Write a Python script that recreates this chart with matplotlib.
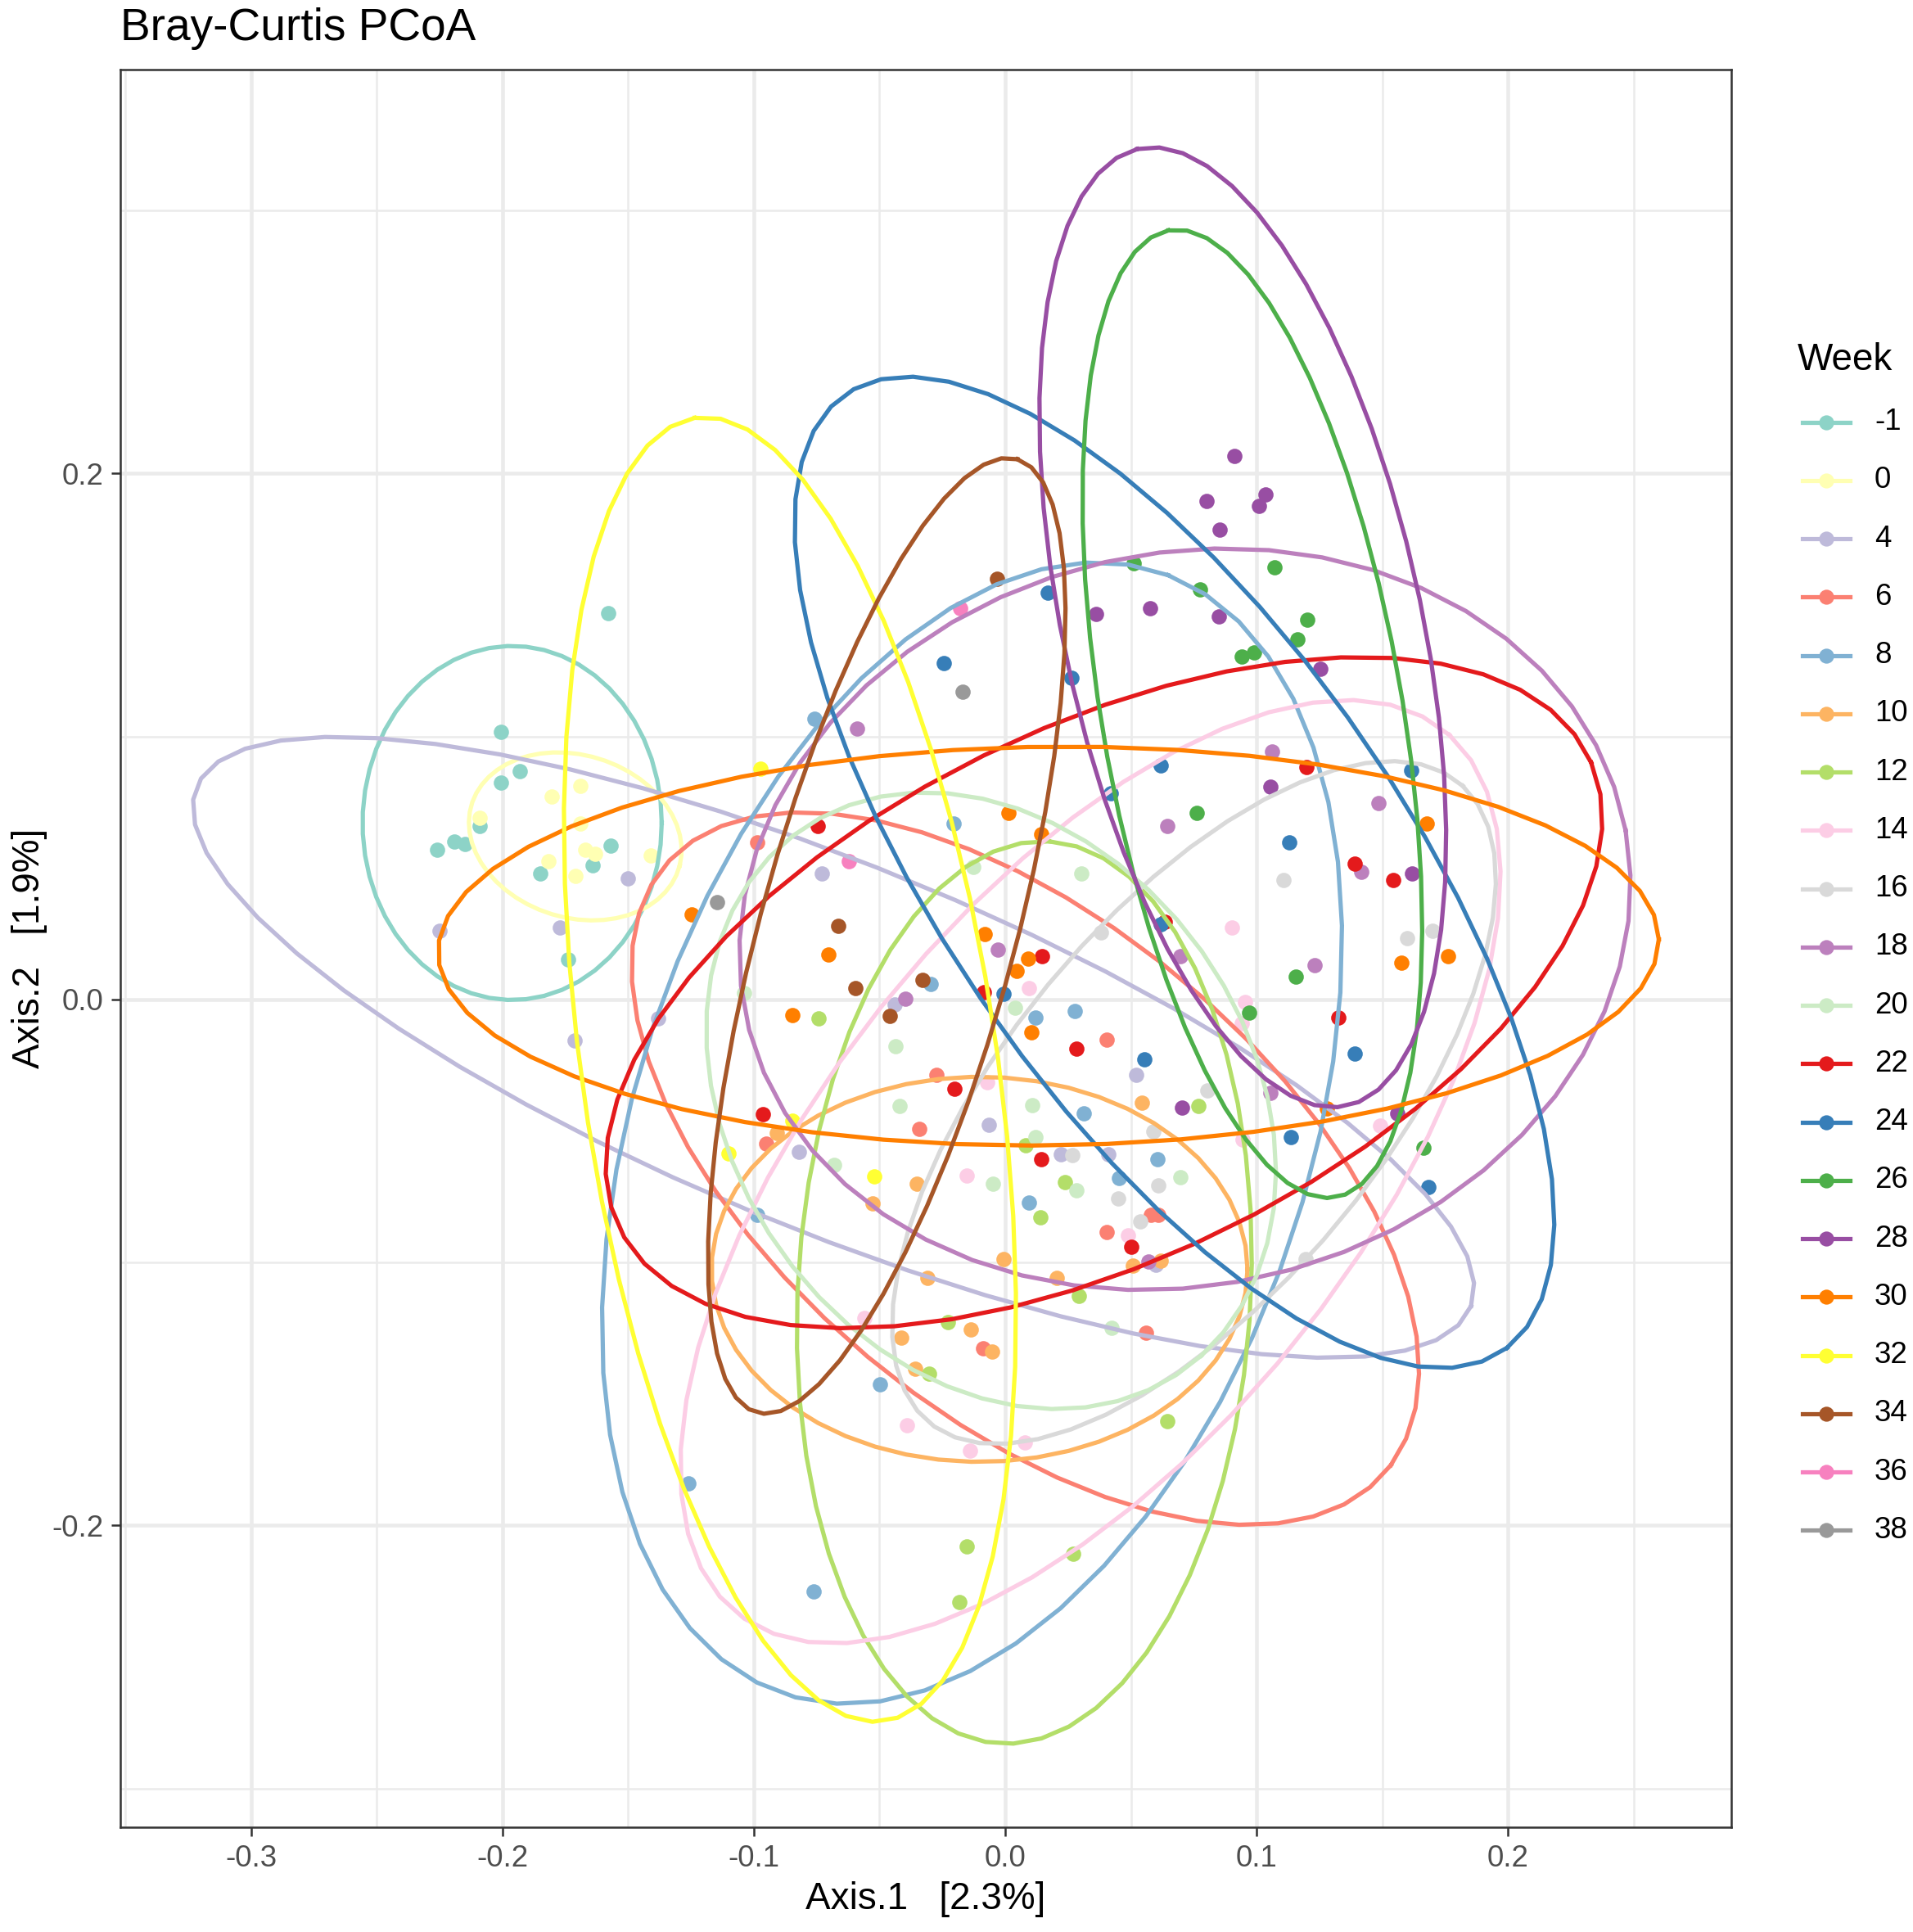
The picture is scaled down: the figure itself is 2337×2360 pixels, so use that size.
import numpy as np
import matplotlib
matplotlib.use("Agg")
import matplotlib.pyplot as plt
from matplotlib.lines import Line2D

plt.rcParams['font.family'] = ['Liberation Sans', 'DejaVu Sans']

# week labels and colours (Set3 first 11 + Set1)
weeks = ['-1', '0', '4', '6', '8', '10', '12', '14', '16', '18',
         '20', '22', '24', '26', '28', '30', '32', '34', '36', '38']
colors = ['#8DD3C7', '#FFFFB3', '#BEBADA', '#FB8072', '#80B1D3', '#FDB462',
          '#B3DE69', '#FCCDE5', '#D9D9D9', '#BC80BD', '#CCEBC5',
          '#E41A1C', '#377EB8', '#4DAF4A', '#984EA3', '#FF7F00', '#FFFF33',
          '#A65628', '#F781BF', '#999999']

# sample coordinates per week (Axis.1, Axis.2)
ax1_m1 = [-0.158, -0.2005, -0.193, -0.2005, -0.209, -0.226, -0.219, -0.215, -0.185, -0.164, -0.157, -0.174]
ax2_m1 = [0.147, 0.1016, 0.0867, 0.0825, 0.066, 0.057, 0.060, 0.059, 0.048, 0.051, 0.0585, 0.0153]
ax1_0 = [-0.169, -0.1805, -0.209, -0.169, -0.167, -0.163, -0.1816, -0.171, -0.141]
ax2_0 = [0.0813, 0.077, 0.069, 0.067, 0.057, 0.0555, 0.0527, 0.047, 0.0548]
ax1_4 = [-0.150, -0.225, -0.177, -0.138, -0.1714, -0.073, -0.044, -0.082, -0.0064, 0.0223, 0.041, 0.052, 0.060]
ax2_4 = [0.046, 0.026, 0.0275, -0.0072, -0.0156, 0.048, -0.002, -0.058, -0.0476, -0.059, -0.059, -0.0287, -0.101]
ax1_6 = [-0.0985, -0.095, -0.0273, -0.0343, 0.0405, 0.058, 0.061, 0.0405, -0.0088, 0.056]
ax2_6 = [0.0597, -0.0548, -0.0287, -0.0492, -0.0153, -0.0819, -0.0819, -0.0885, -0.1327, -0.1268]
ax1_8 = [-0.076, -0.0205, -0.0295, 0.012, 0.0276, 0.0312, 0.0096, 0.0605, 0.0454, -0.0985, -0.126, -0.0497, -0.0763]
ax2_8 = [0.1068, 0.0669, 0.0059, -0.0069, -0.0043, -0.0434, -0.0773, -0.0606, -0.068, -0.082, -0.184, -0.1464, -0.2252]
ax1_10 = [-0.0907, -0.0351, -0.0527, 0.0545, -0.0005, -0.031, 0.0205, -0.0413, -0.0138, -0.0051, -0.0357, 0.0509, 0.0618]
ax2_10 = [-0.0508, -0.070, -0.0774, -0.0392, -0.0988, -0.1058, -0.1058, -0.1286, -0.1254, -0.134, -0.1404, -0.1012, -0.0993]
ax1_12 = [-0.0741, 0.0083, 0.0239, 0.0139, 0.077, -0.0227, -0.0304, 0.0293, -0.0152, 0.0271, -0.0183, 0.0644]
ax2_12 = [-0.0072, -0.0555, -0.0695, -0.0828, -0.0404, -0.1226, -0.1422, -0.1127, -0.208, -0.2108, -0.229, -0.1604]
ax1_14 = [0.0096, -0.0073, -0.0154, 0.0903, 0.0954, 0.094, 0.149, 0.0943, -0.0561, -0.039, -0.0141, 0.0078, 0.0488]
ax2_14 = [0.0044, -0.0315, -0.0669, 0.0275, -0.0009, -0.0091, -0.048, -0.0532, -0.1212, -0.1618, -0.1716, -0.1685, -0.0897]
ax1_16 = [0.038, 0.0266, 0.1106, 0.16, 0.170, 0.0805, 0.059, 0.061, 0.0449, 0.0537, 0.1194]
ax2_16 = [0.0256, -0.0592, 0.0454, 0.0233, 0.026, -0.0345, -0.0502, -0.0707, -0.0757, -0.0844, -0.0988]
ax1_18 = [-0.059, 0.1063, 0.1486, 0.0644, -0.003, -0.0396, 0.1418, 0.0696, 0.123, 0.1054, 0.0569]
ax2_18 = [0.103, 0.0942, 0.0746, 0.0659, 0.019, 0.0004, 0.0486, 0.0165, 0.013, -0.0354, -0.0997]
ax1_20 = [-0.0128, 0.0302, -0.0437, -0.042, 0.0039, 0.0107, 0.012, -0.068, -0.005, 0.0283, 0.0696, 0.0422, -0.104]
ax2_20 = [0.0503, 0.048, -0.0177, -0.0406, -0.0033, -0.0401, -0.0522, -0.063, -0.070, -0.0727, -0.0676, -0.1249, 0.0023]
ax1_22 = [-0.0746, 0.1198, -0.0965, -0.0084, 0.0147, 0.0283, -0.0201, 0.0144, 0.1389, 0.1542, 0.1324, 0.0634, 0.050]
ax2_22 = [0.0658, 0.0883, -0.0436, 0.0028, 0.0163, -0.0186, -0.034, -0.0606, 0.0517, 0.0455, -0.0068, 0.0294, -0.094]
ax1_24 = [0.0168, -0.0244, 0.0263, 0.042, 0.0618, 0.1616, -0.0008, 0.1129, 0.1389, 0.0553, 0.1138, 0.1683, 0.0618]
ax2_24 = [0.1548, 0.128, 0.1223, 0.0783, 0.089, 0.0872, 0.0021, 0.0597, -0.0205, -0.0228, -0.0522, -0.0712, 0.0286]
ax1_26 = [0.0512, 0.0776, 0.107, 0.120, 0.1161, 0.094, 0.099, 0.0761, 0.1157, 0.097, 0.1663]
ax2_26 = [0.166, 0.1559, 0.1643, 0.1445, 0.1369, 0.1305, 0.1319, 0.0709, 0.0087, -0.0049, -0.0564]
ax1_28 = [0.0912, 0.0802, 0.1037, 0.1008, 0.0854, 0.0576, 0.0851, 0.1253, 0.1054, 0.0363, 0.0702, 0.1617, 0.156]
ax2_28 = [0.2067, 0.1895, 0.1921, 0.1876, 0.1787, 0.1487, 0.1455, 0.1257, 0.0809, 0.1466, -0.041, 0.048, -0.0432]
ax1_30 = [0.0012, 0.1678, -0.1246, -0.0702, -0.008, 0.009, 0.0047, -0.0846, 0.0103, 0.0145, 0.1575, 0.1763, 0.1279]
ax2_30 = [0.0709, 0.0669, 0.0322, 0.0171, 0.0249, 0.0155, 0.0107, -0.006, -0.0124, 0.0629, 0.0141, 0.0165, -0.0415]
ax1_32 = [-0.0973, -0.110, -0.0846, -0.0522]
ax2_32 = [0.0877, -0.0586, -0.046, -0.0673]
ax1_34 = [-0.0032, -0.0663, -0.0597, -0.0328, -0.0459]
ax2_34 = [0.16, 0.028, 0.0044, 0.0075, -0.0063]
ax1_36 = [-0.018, -0.0621]
ax2_36 = [0.1487, 0.0527]
ax1_38 = [-0.0168, -0.1146]
ax2_38 = [0.117, 0.0371]

axis1 = [ax1_m1, ax1_0, ax1_4, ax1_6, ax1_8, ax1_10, ax1_12, ax1_14, ax1_16, ax1_18,
         ax1_20, ax1_22, ax1_24, ax1_26, ax1_28, ax1_30, ax1_32, ax1_34, ax1_36, ax1_38]
axis2 = [ax2_m1, ax2_0, ax2_4, ax2_6, ax2_8, ax2_10, ax2_12, ax2_14, ax2_16, ax2_18,
         ax2_20, ax2_22, ax2_24, ax2_26, ax2_28, ax2_30, ax2_32, ax2_34, ax2_36, ax2_38]

# 95% ellipses (weeks -1 .. 34): centre, semi-axes, rotation (deg)
ell_cx = [-0.1961, -0.171, -0.0683, 0.008, -0.0132, -0.0102, 0.0076, 0.0339, 0.0751,
          0.0715, -0.0056, 0.0393, 0.0673, 0.0983, 0.0945, 0.0172, -0.0856, -0.0471]
ell_cy = [0.0671, 0.062, -0.0182, -0.0643, -0.0508, -0.1026, -0.1114, -0.0655, -0.0392,
          0.0305, -0.0385, 0.0026, 0.0483, 0.1086, 0.1415, 0.0203, -0.0266, 0.0242]
ell_a = [0.0595, 0.043, 0.272, 0.184, 0.226, 0.1066, 0.1718, 0.219, 0.161,
         0.1785, 0.128, 0.2126, 0.224, 0.1868, 0.1866, 0.2428, 0.2506, 0.1885]
ell_b = [0.0673, 0.031, 0.070, 0.095, 0.133, 0.0732, 0.0901, 0.104, 0.0732,
         0.1394, 0.101, 0.1019, 0.0905, 0.0597, 0.071, 0.0758, 0.0825, 0.0505]
ell_angle = [0, -15, -21.2, -37.8, 69.8, 0, 86.7, 49.3, 48.4,
             10.9, -49.2, 24.3, -53.8, 100.3, 103, 0.6, 98.7, 74.0]

W, H = 2337, 2360
fig = plt.figure(figsize=(W / 300, H / 300), dpi=300)
ax = fig.add_axes([146.8 / W, 1 - 2232 / H, (2115 - 146.8) / W, (2232 - 85.4) / H])

# points first, ellipses on top
for i in range(len(weeks)):
    ax.scatter(axis1[i], axis2[i], s=20, color=colors[i], linewidths=0, zorder=3)

t = np.linspace(0, 2 * np.pi, 52)
for i in range(len(ell_cx)):
    th = np.deg2rad(ell_angle[i])
    ex = ell_cx[i] + ell_a[i] * np.cos(t) * np.cos(th) - ell_b[i] * np.sin(t) * np.sin(th)
    ey = ell_cy[i] + ell_a[i] * np.cos(t) * np.sin(th) + ell_b[i] * np.sin(t) * np.cos(th)
    ax.plot(ex, ey, color=colors[i], lw=1.25, zorder=4, solid_joinstyle='round')

ax.set_xlim(-0.352, 0.2888)
ax.set_ylim(-0.3147, 0.3534)
ax.set_xticks([-0.3, -0.2, -0.1, 0.0, 0.1, 0.2])
ax.set_xticklabels(['-0.3', '-0.2', '-0.1', '0.0', '0.1', '0.2'])
ax.set_yticks([-0.2, 0.0, 0.2])
ax.set_yticklabels(['-0.2', '0.0', '0.2'])
ax.set_xticks([-0.35, -0.25, -0.15, -0.05, 0.05, 0.15, 0.25], minor=True)
ax.set_yticks([-0.3, -0.1, 0.1, 0.3], minor=True)
ax.grid(which='major', color='#EBEBEB', lw=1.1, zorder=0)
ax.grid(which='minor', color='#EBEBEB', lw=0.6, zorder=0)
ax.set_axisbelow(True)
ax.tick_params(which='major', length=2.75, width=0.6, color='#333333',
               labelsize=8.8, labelcolor='#4D4D4D', pad=2.2)
ax.tick_params(which='minor', length=0)
for sp in ax.spines.values():
    sp.set_color('#333333')
    sp.set_linewidth(0.6)

fig.text(146.8 / W, 1 - 49 / H, 'Bray-Curtis PCoA', fontsize=13.2, ha='left', va='baseline')
fig.text((146.8 + 2115) / 2 / W, 1 - 2332 / H, 'Axis.1   [2.3%]', fontsize=11,
         ha='center', va='baseline')
fig.text(14 / W, 1 - (85.4 + 2232) / 2 / H, 'Axis.2   [1.9%]', fontsize=11,
         ha='left', va='center', rotation=90)

# legend
fig.text(2196 / W, 1 - 452 / H, 'Week', fontsize=11, ha='left', va='baseline')
for i, wk in enumerate(weeks):
    yk = 1 - (515.7 + 71.25 * i) / H
    fig.add_artist(Line2D([2202 / W, 2260 / W], [yk, yk], transform=fig.transFigure,
                          color=colors[i], lw=1.25))
    fig.add_artist(Line2D([2231 / W], [yk], transform=fig.transFigure, marker='o',
                          markersize=4.4, markeredgewidth=0, color=colors[i]))
    fig.text(2290 / W, yk, wk, fontsize=8.8, ha='left', va='center')

fig.savefig('out.png', dpi=300)
